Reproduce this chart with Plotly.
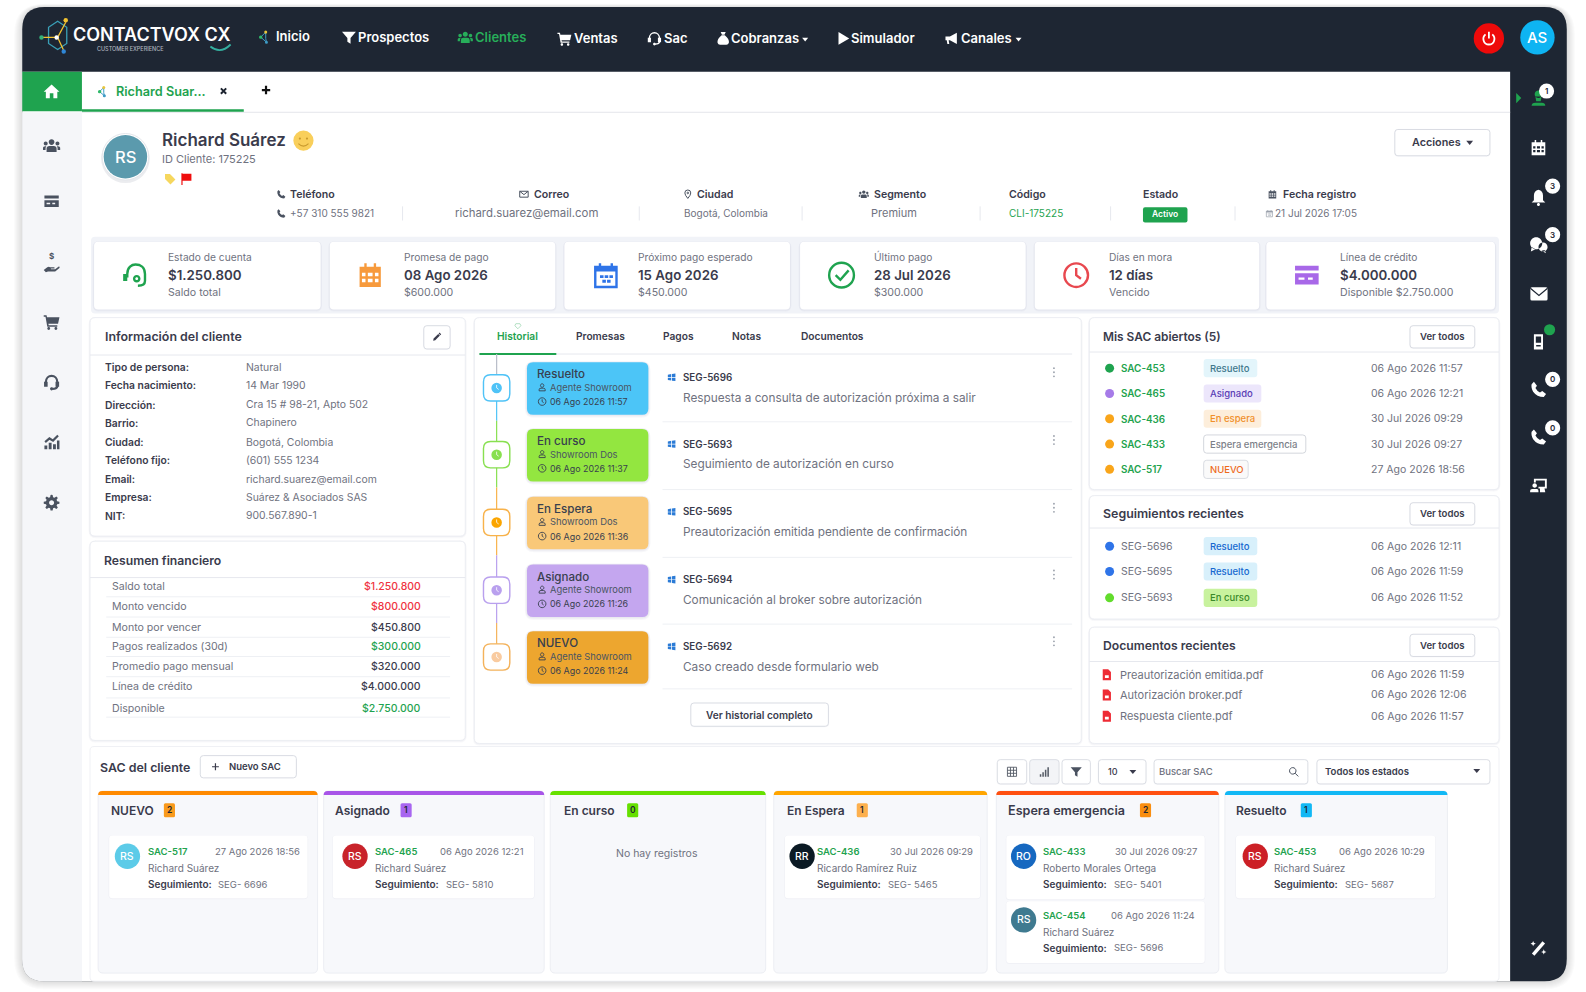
import math
import re
import plotly.graph_objects as go

# ---------- content ----------
NAV_LABELS = ["Inicio", "Prospectos", "Clientes", "Ventas", "Sac", "Cobranzas", "Simulador", "Canales"]
HEADER_LABELS = ["Teléfono", "Correo", "Ciudad", "Segmento", "Código", "Estado", "Fecha registro"]
HEADER_VALUES = ["+57 310 555 9821", "richard.suarez@email.com", "Bogotá, Colombia", "Premium", "CLI-175225", "Activo", "21 Jul 2026 17:05"]
KPI_LABELS = ["Estado de cuenta", "Promesa de pago", "Próximo pago esperado", "Último pago", "Días en mora", "Línea de crédito"]
KPI_VALUES = ["$1.250.800", "08 Ago 2026", "15 Ago 2026", "28 Jul 2026", "12 días", "$4.000.000"]
KPI_NOTES = ["Saldo total", "$600.000", "$450.000", "$300.000", "Vencido", "Disponible $2.750.000"]
INFO_LABELS = ["Tipo de persona:", "Fecha nacimiento:", "Dirección:", "Barrio:", "Ciudad:", "Teléfono fijo:", "Email:", "Empresa:", "NIT:"]
INFO_VALUES = ["Natural", "14 Mar 1990", "Cra 15 # 98-21, Apto 502", "Chapinero", "Bogotá, Colombia", "(601) 555 1234", "richard.suarez@email.com", "Suárez & Asociados SAS", "900.567.890-1"]
FIN_LABELS = ["Saldo total", "Monto vencido", "Monto por vencer", "Pagos realizados (30d)", "Promedio pago mensual", "Línea de crédito", "Disponible"]
FIN_VALUES = ["$1.250.800", "$800.000", "$450.800", "$300.000", "$320.000", "$4.000.000", "$2.750.000"]
TAB_LABELS = ["Historial", "Promesas", "Pagos", "Notas", "Documentos"]
HIST_STATES = ["Resuelto", "En curso", "En Espera", "Asignado", "NUEVO"]
HIST_AGENTS = ["Agente Showroom", "Showroom Dos", "Showroom Dos", "Agente Showroom", "Agente Showroom"]
HIST_DATES = ["06 Ago 2026 11:57", "06 Ago 2026 11:37", "06 Ago 2026 11:36", "06 Ago 2026 11:26", "06 Ago 2026 11:24"]
HIST_IDS = ["SEG-5696", "SEG-5693", "SEG-5695", "SEG-5694", "SEG-5692"]
HIST_TEXTS = ["Respuesta a consulta de autorización próxima a salir", "Seguimiento de autorización en curso",
              "Preautorización emitida pendiente de confirmación", "Comunicación al broker sobre autorización",
              "Caso creado desde formulario web"]
SAC_IDS = ["SAC-453", "SAC-465", "SAC-436", "SAC-433", "SAC-517"]
SAC_STATES = ["Resuelto", "Asignado", "En espera", "Espera emergencia", "NUEVO"]
SAC_DATES = ["06 Ago 2026 11:57", "06 Ago 2026 12:21", "30 Jul 2026 09:29", "30 Jul 2026 09:27", "27 Ago 2026 18:56"]
SEG_IDS = ["SEG-5696", "SEG-5695", "SEG-5693"]
SEG_STATES = ["Resuelto", "Resuelto", "En curso"]
SEG_DATES = ["06 Ago 2026 12:11", "06 Ago 2026 11:59", "06 Ago 2026 11:52"]
DOC_NAMES = ["Preautorización emitida.pdf", "Autorización broker.pdf", "Respuesta cliente.pdf"]
DOC_DATES = ["06 Ago 2026 11:59", "06 Ago 2026 12:06", "06 Ago 2026 11:57"]
COL_TITLES = ["NUEVO", "Asignado", "En curso", "En Espera", "Espera emergencia", "Resuelto"]
COL_COUNTS = ["2", "1", "0", "1", "2", "1"]
CARD_IDS = ["SAC-517", "SAC-465", "SAC-436", "SAC-433", "SAC-454", "SAC-453"]
CARD_DATES = ["27 Ago 2026 18:56", "06 Ago 2026 12:21", "30 Jul 2026 09:29", "30 Jul 2026 09:27", "06 Ago 2026 11:24", "06 Ago 2026 10:29"]
CARD_NAMES = ["Richard Suárez", "Richard Suárez", "Ricardo Ramírez Ruiz", "Roberto Morales Ortega", "Richard Suárez", "Richard Suárez"]
CARD_SEGS = ["SEG- 6696", "SEG- 5810", "SEG- 5465", "SEG- 5401", "SEG- 5696", "SEG- 5687"]
CARD_INITIALS = ["RS", "RS", "RR", "RO", "RS", "RS"]

# ---------- palette ----------
DARK = "#1e2633"
GREEN = "#1fa34f"
INK = "#3a3b4c"
GREY = "#6f7280"
LINE = "#e6e8ee"
FONT = "Inter"

shapes, notes = [], []


def T(x, y, text, size=10, color=GREY, w=400, anchor="left"):
    notes.append(dict(x=x, y=y, text=text, showarrow=False, xanchor=anchor, yanchor="middle", xref="x", yref="y",
                      font=dict(family=FONT, size=size, color=color, weight=w), borderpad=0, borderwidth=0))


def path(d, fill="rgba(0,0,0,0)", line=None, lw=0):
    shapes.append(dict(type="path", path=d, fillcolor=fill, xref="x", yref="y", layer="below",
                       line=dict(color=line or "rgba(0,0,0,0)", width=lw)))


def rr_path(x0, y0, x1, y1, r):
    return (f"M{x0 + r} {y0} L{x1 - r} {y0} Q{x1} {y0} {x1} {y0 + r} L{x1} {y1 - r} Q{x1} {y1} {x1 - r} {y1} "
            f"L{x0 + r} {y1} Q{x0} {y1} {x0} {y1 - r} L{x0} {y0 + r} Q{x0} {y0} {x0 + r} {y0} Z")


def rect(x0, y0, x1, y1, r=0, fill="#ffffff", line=None, lw=0, shadow=0):
    for i in range(shadow, 0, -1):
        path(rr_path(x0 - i * 0.7, y0 - i * 0.3, x1 + i * 0.7, y1 + i, r + i), "rgba(60,70,100,0.035)")
    path(rr_path(x0, y0, x1, y1, r) if r else f"M{x0} {y0} L{x1} {y0} L{x1} {y1} L{x0} {y1} Z", fill, line, lw)


def circle(cx, cy, r, fill, line=None, lw=0):
    shapes.append(dict(type="circle", x0=cx - r, x1=cx + r, y0=cy - r, y1=cy + r, xref="x", yref="y", layer="below",
                       fillcolor=fill, line=dict(color=line or "rgba(0,0,0,0)", width=lw)))


def hline(x0, x1, y, color=LINE, lw=1):
    shapes.append(dict(type="line", x0=x0, x1=x1, y0=y, y1=y, xref="x", yref="y", layer="below", line=dict(color=color, width=lw)))


def vline(x, y0, y1, color=LINE, lw=1):
    shapes.append(dict(type="line", x0=x, x1=x, y0=y0, y1=y1, xref="x", yref="y", layer="below", line=dict(color=color, width=lw)))


def c(cx, cy, r):
    k = 0.5523 * r
    return (f"M{cx - r} {cy} C{cx - r} {cy - k} {cx - k} {cy - r} {cx} {cy - r} C{cx + k} {cy - r} {cx + r} {cy - k} {cx + r} {cy} "
            f"C{cx + r} {cy + k} {cx + k} {cy + r} {cx} {cy + r} C{cx - k} {cy + r} {cx - r} {cy + k} {cx - r} {cy} Z ")


def gear():
    pts = []
    for i in range(48):
        a = i / 48 * 2 * math.pi
        rad = 11 if (i % 6) in (0, 1, 5) else 8
        pts.append(f"{'M' if i == 0 else 'L'}{12 + rad * math.cos(a):.2f} {12 + rad * math.sin(a):.2f}")
    return " ".join(pts) + " Z " + c(12, 12, 3.5)


ICONS = {
    "home": [("M12 3 L23 13 L20 13 L20 22 L14.5 22 L14.5 15 L9.5 15 L9.5 22 L4 22 L4 13 L1 13 Z", "f")],
    "users": [(c(12, 7, 4) + "M5 21 L5 16 Q5 12.5 9 12.5 L15 12.5 Q19 12.5 19 16 L19 21 Z " + c(3.8, 9, 2.8) + c(20.2, 9, 2.8)
               + "M0 18 L0 15 Q0 12.8 3 12.8 L4.7 12.8 Q3.6 14 3.6 16 L3.6 18 Z M24 18 L24 15 Q24 12.8 21 12.8 L19.3 12.8 Q20.4 14 20.4 16 L20.4 18 Z", "f")],
    "card": [("M2 4 L22 4 L22 20 L2 20 Z M2 8 L22 8 L22 10.5 L2 10.5 Z M5 14 L10 14 L10 16 L5 16 Z M13 14 L17 14 L17 16 L13 16 Z", "f")],
    "hand": [("M1 19 L6 15 Q8 14 10 15 L15 15 Q17 15 16 17 L11 17 L11 18 L17 18 L22 14 Q24 14 23 16 L17 21 L7 21 L4 22 Z", "f")],
    "cart": [("M1 3 L5 3 L5.6 6 L23 6 L21 15 L7.5 15 L8 17 L20 17 L20 19 L6 19 L3.5 5 L1 5 Z " + c(8, 21.5, 2) + c(18, 21.5, 2), "f")],
    "headset": [("M4 14 L4 12 C4 6 8 3 12 3 C16 3 20 6 20 12 L20 14 M20 17 Q20 21 13 21", "s"), ("M1.5 11 L6.5 11 L6.5 18 L1.5 18 Z M17.5 11 L22.5 11 L22.5 18 L17.5 18 Z " + c(12, 21, 2.2), "f")],
    "chart": [("M2 17 L6 17 L6 22 L2 22 Z M8 13 L12 13 L12 22 L8 22 Z M14 15 L18 15 L18 22 L14 22 Z M19.5 10 L23 10 L23 22 L19.5 22 Z", "f"), ("M3 12 L9 7 L14 10 L21 3", "s")],
    "gear": [(gear(), "f")],
    "funnel": [("M1 3 L23 3 L14.5 13 L14.5 22 L9.5 19 L9.5 13 Z", "f")],
    "play": [("M4 2 L21 12 L4 22 Z", "f")],
    "mega": [("M2 9 L9 9 L20 3 L20 21 L9 15 L7 15 L8 21 L5 21 L4 15 L2 15 Z", "f")],
    "bag": [("M8 2 L16 2 L14 6 L10 6 Z M9.5 7 L14.5 7 Q22 13 21 19 Q20 22 17 22 L7 22 Q4 22 3 19 Q2 13 9.5 7 Z", "f")],
    "calfill": [("M3 5 L21 5 L21 22 L3 22 Z M5 10 L8 10 L8 13 L5 13 Z M10 10 L14 10 L14 13 L10 13 Z M16 10 L19 10 L19 13 L16 13 Z M5 15 L8 15 L8 18 L5 18 Z M10 15 L14 15 L14 18 L10 18 Z M16 15 L19 15 L19 18 L16 18 Z M7 2 L9 2 L9 5 L7 5 Z M15 2 L17 2 L17 5 L15 5 Z", "f")],
    "calline": [("M3 5 L21 5 L21 22 L3 22 Z M7 2 L7 5 M17 2 L17 5", "s"), ("M3 5 L21 5 L21 9 L3 9 Z M7 12 L10 12 L10 14.5 L7 14.5 Z M11 12 L14 12 L14 14.5 L11 14.5 Z M15 12 L18 12 L18 14.5 L15 14.5 Z M9 16 L12 16 L12 18.5 L9 18.5 Z M13 16 L16 16 L16 18.5 L13 18.5 Z", "f")],
    "bell": [("M12 2 Q18 3 18 10 L18 16 L21 19 L3 19 L6 16 L6 10 Q6 3 12 2 Z " + c(12, 21.5, 2), "f")],
    "chat": [(c(9, 10, 8) + "M3 15 L2 21 L8 18 Z " + c(18, 15, 6) + "M20 19 L22 23 L16 20 Z", "f")],
    "mail": [("M2 5 L22 5 L22 19 L2 19 Z M2 5 L12 13 L22 5", "s")],
    "phone": [("M6 2 L10 7 L8 10 Q10 14 14 16 L17 14 L22 18 L19 22 Q10 22 5 15 Q2 9 3 5 Z", "f")],
    "device": [("M6 2 L18 2 L18 22 L6 22 Z M8.5 5 L15.5 5 L15.5 13 L8.5 13 Z M9 16 L15 16 L15 18 L9 18 Z", "f")],
    "monitor": [("M6 3 L23 3 L23 16 L12 16 L12 13.5 L20.5 13.5 L20.5 5.5 L8.5 5.5 L8.5 8 L6 8 Z M14 16 L20 16 L21 21 L14 21 Z " + c(7, 12, 3) + "M1 21 L1 19 Q1 16.5 4 16.5 L10 16.5 Q12 16.5 12 19 L12 21 Z", "f")],
    "wand": [("M5 21 L19 5", "s"), ("M5 3 L6 5.5 L8.5 6.5 L6 7.5 L5 10 L4 7.5 L1.5 6.5 L4 5.5 Z M19 14 L20 16.5 L22.5 17.5 L20 18.5 L19 21 L18 18.5 L15.5 17.5 L18 16.5 Z", "f")],
    "pencil": [("M3 21 L4 16 L15 5 L19 9 L8 20 Z M16 4 L18 2 L22 6 L20 8 Z", "f")],
    "search": [(c(10, 10, 7) + "M15 15 L22 22", "s")],
    "grid": [("M3 3 L21 3 L21 21 L3 21 Z M3 9 L21 9 M3 15 L21 15 M9 3 L9 21 M15 3 L15 21", "s")],
    "signal": [("M3 17 L6 17 L6 22 L3 22 Z M8 13 L11 13 L11 22 L8 22 Z M13 8 L16 8 L16 22 L13 22 Z M18 3 L21 3 L21 22 L18 22 Z", "f")],
    "flag": [("M4 2 L6 2 L6 22 L4 22 Z M6 3 L21 3 L21 15 L6 15 Z", "f")],
    "tag": [("M3 3 L12 3 L22 13 L13 22 L3 12 Z", "f")],
    "win": [("M2 5 L11 3.5 L11 11.5 L2 11.5 Z M13 3.2 L22 2 L22 11.5 L13 11.5 Z M2 13 L11 13 L11 20.5 L2 19 Z M13 13 L22 13 L22 22 L13 20.8 Z", "f")],
    "pdf": [("M5 2 L15 2 L20 7 L20 22 L5 22 Z M9 13 L16 13 L16 18 L9 18 Z", "f")],
    "person": [(c(12, 7, 4.5) + "M4 21 L4 18 Q4 14 9 14 L15 14 Q20 14 20 18 L20 21 Z", "s")],
    "clock": [(c(12, 12, 10) + "M12 6 L12 12 L16 15", "s")],
    "check": [(c(12, 12, 10.5) + "M7 12 L11 16 L18 8", "s")],
    "pin": [("M12 2 Q19 2 19 9 Q19 14 12 22 Q5 14 5 9 Q5 2 12 2 Z " + c(12, 9, 2), "s")],
    "mic": [(c(12, 7, 5) + "M8 10 L16 10 L15 16 L9 16 Z M3 22 Q3 18 8 18 L16 18 Q21 18 21 22 Z", "f")],
    "caret": [("M3 7 L21 7 L12 18 Z", "f")],
    "plus": [("M12 3 L12 21 M3 12 L21 12", "s")],
    "close": [("M5 5 L19 19 M19 5 L5 19", "s")],
    "power": [("M7 6 C1 11 4 21 12 21 C20 21 23 11 17 6 M12 2 L12 12", "s")],
    "kpihead": [("M5 14 L5 11 C5 5 9 3 12 3 C16 3 20 5 20 11 L20 17 Q20 21 14 21", "s"), ("M1.5 11 L5 11 L5 17 L1.5 17 Z " + c(13, 15, 3.2) + c(13, 15, 1.2), "f")],
    "net": [("M6 13 L13 6 M6 13 L14 20 M13 6 L13 15 L14 20", "s")],
}


def icon(name, cx, cy, size, color, lw=1.3):
    s = size / 24
    for d, mode in ICONS[name]:
        toks = re.findall(r"[MLCQZ]|-?\d+\.?\d*", d)
        out, axis = [], 0
        for t in toks:
            if t in "MLCQZ":
                out.append(t)
                axis = 0
            else:
                v = float(t)
                out.append(f"{(cx if axis == 0 else cy) + (v - 12) * s:.2f}")
                axis = 1 - axis
        dd = " ".join(out)
        if mode == "f":
            path(dd, color)
        else:
            path(dd, "rgba(0,0,0,0)", color, lw)


def net_icon(cx, cy, s):
    icon("net", cx, cy, s, "#3d9bc5", 1)
    k = s / 24
    circle(cx - 6 * k, cy + 1 * k, 1.7, "#2fb86a")
    circle(cx + 1 * k, cy - 6 * k, 1.5, "#e8c53a")
    circle(cx + 2 * k, cy + 8 * k, 1.5, "#3d9bc5")


def button(x0, y0, x1, y1, label, size=9, w=600):
    rect(x0, y0, x1, y1, 3, "#ffffff", "#d9dce3", 1, shadow=1)
    T((x0 + x1) / 2, (y0 + y1) / 2, label, size, INK, w, "center")


def badge(x0, y, x1, label, fill, color, line=None, size=9.5):
    rect(x0, y - 9, x1, y + 9, 3, fill, line, 1 if line else 0)
    T(x0 + 6, y, label, size, color, 500)


# ---------- frame ----------
for i in range(8, 0, -1):
    path(rr_path(22 - i, 7 - i * 0.4, 1549 + i, 970 + i, 22 + i), "rgba(40,50,70,0.018)")
rect(22, 7, 1549, 970, 22, DARK)
path("M22 71 L1493 71 L1493 970 L44 970 Q22 970 22 948 Z", "#ffffff")
path("M22 111 L81 111 L81 970 L44 970 Q22 970 22 948 Z", "#f5f6f9")
rect(22, 71, 81, 110, 0, GREEN)
icon("home", 51, 90, 17, "#ffffff")

# top bar: logo
path("M57 21 L66 27 L66 43 L57 49 L48 43 L48 27 Z", "rgba(0,0,0,0)", "#3aa0b8", 1.3)
path("M41 37 L57 37 L65 22 M57 37 L63 50", "rgba(0,0,0,0)", "#f2c230", 1.3)
for cx, cy, col in [(41, 37, "#33b27a"), (65, 20, "#f2c230"), (63, 51, "#2f86d6"), (56, 37, "#ffffff")]:
    circle(cx, cy, 2.2, col)
T(72, 34, "CONTACTVOX CX", 18, "#ffffff", 600)
T(96, 48, "CUSTOMER EXPERIENCE", 5.5, "#aeb4bf", 500)
path("M208 46 Q218 54 228 44", "rgba(0,0,0,0)", "#35b0a0", 1.8)

nav_x = [273, 354, 470, 567, 656, 723, 841, 950]
nav_y = [36, 37, 37, 38, 38, 38, 38, 38]
nav_icons = [None, "funnel", "users", "cart", "headset", "bag", "play", "mega"]
nav_icon_x = [262, 345, 460, 558, 647, 715, 834, 941]
for i, label in enumerate(NAV_LABELS):
    col = "#27ae5a" if label == "Clientes" else "#ffffff"
    T(nav_x[i], nav_y[i], label, 13, col, 600)
    if nav_icons[i]:
        icon(nav_icons[i], nav_icon_x[i], nav_y[i], 15, col, 1.3)
net_icon(262, 36, 17)
icon("caret", 796, 39, 8, "#ffffff")
icon("caret", 1007, 39, 8, "#ffffff")
circle(1472, 38, 15, "#ee0a0a")
icon("power", 1472, 38, 16, "#ffffff", 1.8)
circle(1520, 37, 17, "#0eb4f2")
T(1520, 37, "AS", 15, "#ffffff", 500, "center")

# tab strip
hline(81, 1493, 111, "#e4e6eb", 1)
rect(81, 108, 241, 110.5, 0, GREEN)
net_icon(102, 90, 14)
T(115, 90, "Richard Suar...", 12.7, GREEN, 600)
icon("close", 221, 90, 9, "#1d2430", 2)
icon("plus", 263, 89, 11, "#111111", 2.2)

# side icons
side_names = ["users", "card", "hand", "cart", "headset", "chart", "gear"]
side_y = [144, 199, 262, 318, 378, 437, 497]
for n, y in zip(side_names, side_y):
    icon(n, 51, y, 17, "#4a5260", 2.2)
T(51, 253, "$", 8, "#4a5260", 700, "center")

# client header
circle(124, 157, 24, "rgba(60,70,100,0.10)")
circle(124, 155, 23, "#ffffff", "#e4e6eb", 1)
circle(124, 155, 21.5, "#5b9aad")
T(124, 155, "RS", 16.5, "#ffffff", 500, "center")
T(160, 138, "Richard Suárez", 17, INK, 600)
circle(300, 139, 10, "#f9cf5b")
circle(296.5, 137, 1.1, "#c99a2e")
circle(303.5, 137, 1.1, "#c99a2e")
path("M295 142 Q300 147 305 142", "rgba(0,0,0,0)", "#c99a2e", 1.1)
T(160, 157, "ID Cliente: 175225", 11, GREY, 400)
icon("tag", 168, 177, 13, "#f6d75e")
icon("flag", 184, 177, 14, "#ef0d0d")
button(1379, 128, 1473, 154, "", 10)
T(1396, 141, "Acciones", 10.8, INK, 600)
icon("caret", 1453, 141, 9, INK)

hdr_x = [287, 528, 689, 864, 998, 1130, 1268]
hdr_icon = ["phone", "mail", "pin", "users", None, None, "calfill"]
hdr_icon_x = [278, 518, 680, 854, None, None, 1258]
val_x = [287, 450, 676, 861, 998, 1136, 1261]
val_size = [10, 11.4, 10, 11, 10, 10, 10]
val_col = [GREY] * 7
val_col[4] = GREEN
for i, label in enumerate(HEADER_LABELS):
    T(hdr_x[i], 192, label, 10.6, INK, 600)
    if hdr_icon[i]:
        icon(hdr_icon[i], hdr_icon_x[i], 192, 10, "#4a5260", 1)
    if HEADER_VALUES[i] == "Activo":
        rect(1130, 205, 1174, 220, 2, GREEN)
        T(1152, 212, "Activo", 8.5, "#ffffff", 600, "center")
    else:
        T(val_x[i], 211, HEADER_VALUES[i], val_size[i], val_col[i], 400)
icon("phone", 278, 211, 10, "#4a5260")
icon("calline", 1255, 211, 8, "#9aa0ab", 0.7)
for x in [398, 632, 793, 969, 1098, 1221]:
    vline(x, 204, 218)

# KPI band
rect(90, 234, 1482, 310, 4, "#f1f3f8")
kpi_x0 = [93, 326, 558, 791, 1023, 1252]
kpi_x1 = [317, 549, 781, 1014, 1245, 1478]
kpi_text = [166, 399, 631, 864, 1096, 1325]
kpi_icon_x = [134, 366, 599, 832, 1064, 1292]
kpi_icons = ["kpihead", "calfill", "calline", "check", "clock", "card"]
kpi_col = ["#1fa34f", "#f79a3c", "#2f74e8", "#1fa34f", "#e8484f", "#a868e8"]
for i in range(6):
    rect(kpi_x0[i], 239, kpi_x1[i], 306, 4, "#ffffff", None, 0, shadow=2)
    icon(kpi_icons[i], kpi_icon_x[i], 272, 28, kpi_col[i], 2.4)
    T(kpi_text[i], 254, KPI_LABELS[i], 10.2, GREY, 400)
    T(kpi_text[i], 272, KPI_VALUES[i], 13.3, INK, 600)
    T(kpi_text[i], 289, KPI_NOTES[i], 10.6, GREY, 400)

# info panel
rect(89, 314, 460, 530, 5, "#ffffff", "#eceef3", 1, shadow=2)
hline(89, 460, 351)
T(104, 333, "Información del cliente", 12.4, INK, 600)
button(419, 322, 445, 345, "")
icon("pencil", 432, 333, 10, INK)
info_y = [363, 381, 400, 418, 437, 455, 474, 492, 510]
for l, v, y in zip(INFO_LABELS, INFO_VALUES, info_y):
    T(104, y, l, 10.3, INK, 600)
    T(243, y, v, 10.4, GREY, 400)

# financial panel
rect(89, 535, 460, 732, 5, "#ffffff", "#eceef3", 1, shadow=2)
hline(89, 460, 571)
T(103, 554, "Resumen financiero", 12.2, INK, 600)
fin_y = [580, 600, 620, 639, 659, 679, 700]
fin_line = [590, 610, 630, 649, 669, 690, 709]
fin_col = ["#ef3340", "#ef3340", INK, GREEN, INK, INK, GREEN]
for l, v, y, ly, col in zip(FIN_LABELS, FIN_VALUES, fin_y, fin_line, fin_col):
    T(111, y, l, 10.6, GREY, 400)
    T(416, y, v, 10.5, col, 500, "right")
    hline(105, 445, ly, "#eef0f4")

# history panel
rect(469, 314, 1069, 735, 5, "#ffffff", "#eceef3", 1, shadow=2)
hline(474, 1060, 350)
rect(474, 349, 550, 351, 0, GREEN)
path("M510 320 L514 320 L515 322 L512 325 L509 322 Z", "rgba(0,0,0,0)", "#9fd8b4", 0.8)
tab_x = [512, 594, 671, 738, 823]
for i, (l, x) in enumerate(zip(TAB_LABELS, tab_x)):
    T(x, 332, l, 10.2, GREEN if i == 0 else INK, 600, "center")
hist_col = ["#4cc5f7", "#93e640", "#f9c878", "#c4a6ef", "#eda62f"]
node_col = ["#4fc3f7", "#88e050", "#f8b24a", "#b9a0ee", "#f4b25a"]
dot_col = ["#4fc3f7", "#88e050", "#fba500", "#b9a0ee", "#f9cba0"]
hist_top = [358, 424, 491, 558, 624]
vline(491, 350, 372, "#b8bdc8", 1.2)
for i in range(5):
    y0 = hist_top[i]
    cy = y0 + 25
    if i < 4:
        vline(491, cy, cy + 33, node_col[i], 1.2)
        vline(491, cy + 33, cy + 67, node_col[i + 1], 1.2)
for i in range(5):
    y0 = hist_top[i]
    cy = y0 + 25.5
    rect(478, cy - 13, 504, cy + 13, 7, "#ffffff", node_col[i], 1.4, shadow=1)
    circle(491, cy, 5.2, dot_col[i])
    path(f"M491 {cy - 3} L491 {cy} L493 {cy + 1.5}", "rgba(0,0,0,0)", "#ffffff", 0.8)
    rect(521, y0, 641, y0 + 52, 6, hist_col[i], None, 0, shadow=3)
    T(531, y0 + 12, HIST_STATES[i], 11.6, "#38404e", 500)
    icon("person", 536, y0 + 25, 9, "#38404e", 0.9)
    T(544, y0 + 25, HIST_AGENTS[i], 9.4, "#4a5563", 400)
    icon("clock", 536, y0 + 39, 9, "#38404e", 0.9)
    T(544, y0 + 39, HIST_DATES[i], 8.9, "#38404e", 400)
hist_id_y = [373, 439, 506, 573, 639]
hist_txt_y = [393, 459, 526, 593, 659]
hist_sep_y = [417, 484, 551, 617, 681]
hist_dot_y = [368, 435, 502, 568, 634]
for i in range(5):
    icon("win", 664, hist_id_y[i], 9, "#2b7bd6")
    T(675, hist_id_y[i], HIST_IDS[i], 9.8, INK, 600)
    T(675, hist_txt_y[i], HIST_TEXTS[i], 11.8, GREY, 400)
    hline(655, 1060, hist_sep_y[i], "#eef0f4")
    for dy in (-4, 0, 4):
        circle(1042, hist_dot_y[i] + dy, 0.9, "#9aa0ab")
button(683, 695, 819, 718, "Ver historial completo", 10.1)

# right panels
for y0, y1, title, size, ty, by, ly in [(314, 484, "Mis SAC abiertos (5)", 11.9, 333, 322, 348),
                                        (490, 612, "Seguimientos recientes", 12.4, 508, 497, 522),
                                        (620, 735, "Documentos recientes", 12.2, 638, 627, 654)]:
    rect(1077, y0, 1482, y1, 5, "#ffffff", "#eceef3", 1, shadow=2)
    hline(1077, 1482, ly)
    T(1090, ty, title, size, INK, 600)
    button(1394, by, 1458, by + 22, "Ver todos", 9.6)

STATE_STYLE = {
    "Resuelto": (53, "#e3f5fb", "#40788c", None),
    "Asignado": (57, "#ece6fb", "#5a3db5", None),
    "En espera": (57, "#fdeedb", "#f0902a", None),
    "Espera emergencia": (101, "#ffffff", "#7c8088", "#d4d7dd"),
    "NUEVO": (44, "#fafafa", "#ee6a1c", "#d9dce2"),
}
sac_y = [364, 389, 414, 439, 464]
sac_dot = ["#1fa34f", "#a67be8", "#f9a51a", "#f9a51a", "#f9a51a"]
for y, i_, st, d in zip(sac_y, SAC_IDS, SAC_STATES, SAC_DATES):
    T(1108, y, i_, 9.9, GREEN, 600)
    w, f, tc, ln = STATE_STYLE[st]
    badge(1190, y, 1190 + w, st, f, tc, ln)
    T(1355, y, d, 10.5, GREY, 400)
seg_y = [540, 565, 591]
seg_dot = ["#2f74e8", "#2f74e8", "#62dc2c"]
for y, i_, st, d in zip(seg_y, SEG_IDS, SEG_STATES, SEG_DATES):
    T(1108, y, i_, 10.5, GREY, 400)
    if st == "Resuelto":
        badge(1190, y, 1243, st, "#d8f0fb", "#1668d0")
    else:
        badge(1190, y, 1243, st, "#c8f29e", "#3b8a2a")
    T(1355, y, d, 10.5, GREY, 400)
doc_y = [667, 687, 708]
for y, n, d in zip(doc_y, DOC_NAMES, DOC_DATES):
    icon("pdf", 1094, y, 13, "#ee2b35")
    T(1107, y, n, 11, GREY, 400)
    T(1355, y, d, 10.6, GREY, 400)

# SAC section
rect(89, 738, 1482, 970, 4, "#ffffff", "#f0f1f5", 1)
T(99, 759, "SAC del cliente", 12.4, INK, 600)
rect(198, 747, 293, 769, 3, "#ffffff", "#d9dce3", 1)
icon("plus", 213, 758, 9, INK, 1.2)
T(226, 758, "Nuevo SAC", 9.5, INK, 600)
for x0, x1, name, col in [(986, 1015, "grid", "#555b66"), (1018, 1047, "signal", "#555b66"), (1050, 1078, "funnel", "#4a5260")]:
    rect(x0, 751, x1, 775, 3, "#ffffff" if name != "signal" else "#f3f4f7", "#dcdfe5", 1, shadow=1)
    icon(name, (x0 + x1) / 2, 763, 12, col, 0.9)
rect(1086, 751, 1133, 775, 3, "#ffffff", "#dcdfe5", 1, shadow=1)
T(1095, 763, "10", 9, INK, 500)
icon("caret", 1120, 763, 9, INK)
rect(1141, 751, 1293, 775, 3, "#ffffff", "#dcdfe5", 1, shadow=1)
T(1146, 763, "Buscar SAC", 9.5, GREY, 500)
icon("search", 1279, 763, 11, "#4a5260", 1)
rect(1302, 751, 1473, 775, 3, "#ffffff", "#dcdfe5", 1, shadow=1)
T(1310, 763, "Todos los estados", 9.6, INK, 600)
icon("caret", 1460, 762, 9, INK)

col_x0 = [97, 320, 544, 765, 985, 1211]
col_x1 = [314, 538, 757, 976, 1205, 1431]
col_col = ["#ff8a00", "#a855e8", "#66e000", "#ffa500", "#ff5010", "#12b8f5"]
col_title_x = [110, 331, 558, 778, 997, 1222]
col_badge_x = [162, 396, 620, 847, 1127, 1286]
col_badge_col = ["#f99a1c", "#a866f0", "#66e000", "#fdb04e", "#f98e10", "#12b8f5"]
for i in range(6):
    rect(col_x0[i], 782, col_x1[i], 962, 5, "#f7f8fb", "#eceef3", 1)
    path(f"M{col_x0[i]} 786 Q{col_x0[i]} 782 {col_x0[i] + 4} 782 L{col_x1[i] - 4} 782 Q{col_x1[i]} 782 {col_x1[i]} 786 Z", col_col[i])
    T(col_title_x[i], 801, COL_TITLES[i], 12.6 if i == 4 else 12, INK, 600)
    rect(col_badge_x[i], 794, col_badge_x[i] + 11, 808, 1.5, col_badge_col[i])
    T(col_badge_x[i] + 5.5, 801, COL_COUNTS[i], 8.5, "#1f2733", 600, "center")
T(650, 844, "No hay registros", 10.5, GREY, 400, "center")

card_x0 = [108, 329, 776, 995, 995, 1222]
card_x1 = [304, 528, 969, 1191, 1191, 1419]
card_y0 = [826, 826, 826, 826, 891, 826]
card_y1 = [888, 888, 888, 889, 952, 888]
card_text_y = [842, 842, 842, 842, 905, 842]
card_av_x = [126, 351, 793, 1012, 1012, 1241]
card_av_col = ["#5ccbe8", "#c8232a", "#0b1a24", "#1668c0", "#3f7a90", "#cc2026"]
card_tx = [146, 371, 808, 1031, 1031, 1260]
card_dr = [297, 518, 962, 1183, 1181, 1409]
for i in range(6):
    y = card_text_y[i]
    rect(card_x0[i], card_y0[i], card_x1[i], card_y1[i], 3, "#ffffff", None, 0, shadow=1)
    circle(card_av_x[i], y + 4.5, 12.5, card_av_col[i])
    T(card_av_x[i], y + 4.5, CARD_INITIALS[i], 10.5, "#ffffff", 500, "center")
    T(card_tx[i], y, CARD_IDS[i], 9.5, GREEN, 600)
    T(card_dr[i], y, CARD_DATES[i], 9.5, GREY, 400, "right")
    T(card_tx[i], y + 16, CARD_NAMES[i], 10, GREY, 400)
    T(card_tx[i], y + 32, "Seguimiento:", 10, INK, 600)
    T(card_tx[i] + 70, y + 32, CARD_SEGS[i], 9.5, GREY, 400)

# right bar
rb_icons = ["mic", "calfill", "bell", "chat", None, "device", "phone", "phone", "monitor", "wand"]
rb_y = [97, 146, 195, 242, 290, 338, 385, 432, 480, 937]
for name, y in zip(rb_icons, rb_y):
    if name:
        icon(name, 1521, y, 18, "#1fa34f" if name == "mic" else "#ffffff", 3.4)
rect(1513, 284, 1530, 297, 1.5, "#ffffff")
path("M1513 285 L1521.5 292 L1530 285", "rgba(0,0,0,0)", DARK, 1.2)
path("M1499 92 L1504 97 L1499 102 Z", "#1fa34f")
for x, y, t in [(1529, 90, "1"), (1535, 184, "3"), (1535, 232, "3"), (1535, 375, "0"), (1535, 423, "0")]:
    circle(x, y, 7.5, "#ffffff")
    T(x, y, t, 8, "#1e2633", 600, "center")
circle(1532, 326, 5.5, "#1fa34f")

# status dots
dots_x = [1097] * len(sac_y + seg_y)
dots_y = sac_y + seg_y
dots_c = sac_dot + seg_dot

fig = go.Figure(go.Scatter(x=dots_x, y=dots_y, mode="markers", marker=dict(size=9, color=dots_c), hoverinfo="skip", showlegend=False))
fig.update_layout(
    width=1586, height=992, margin=dict(l=0, r=0, t=0, b=0), paper_bgcolor="#ffffff", plot_bgcolor="#ffffff",
    xaxis=dict(range=[0, 1568], visible=False, fixedrange=True),
    yaxis=dict(range=[980.7, 0], visible=False, fixedrange=True),
    shapes=shapes, annotations=notes, showlegend=False, font=dict(family=FONT),
)
fig.write_html("out.html", config=dict(displayModeBar=False, staticPlot=True),
               post_script="document.body.style.margin='0';document.body.style.overflow='hidden';")
